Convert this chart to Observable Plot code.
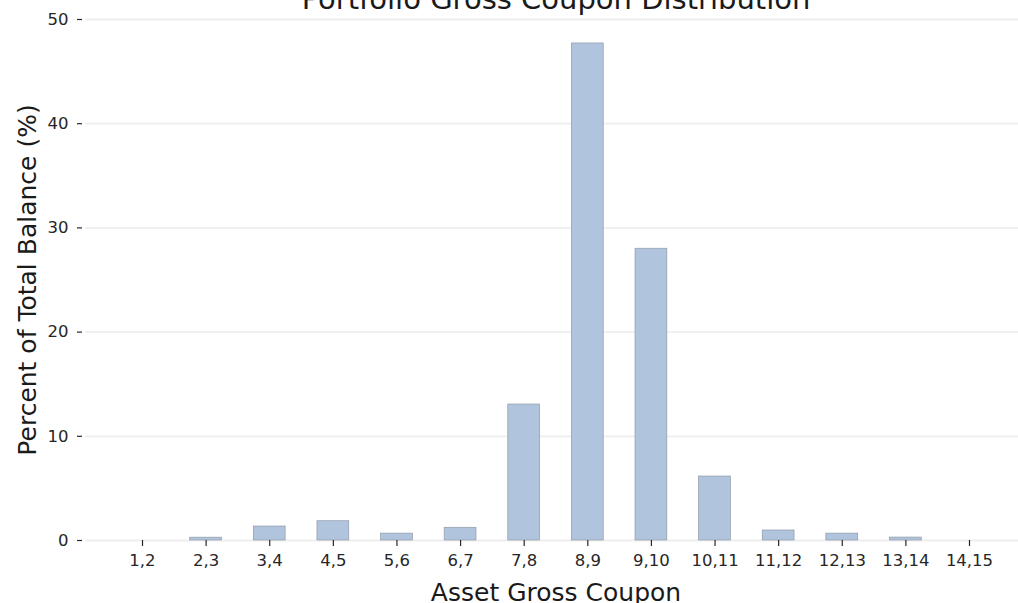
<!DOCTYPE html>
<html>
<head>
<meta charset="utf-8">
<script src="https://cdn.jsdelivr.net/npm/d3@7"></script>
<script src="https://cdn.jsdelivr.net/npm/@observablehq/plot@0.6"></script>
<style>
  html, body { margin: 0; padding: 0; background: #fff; }
  svg { display: block; }
</style>
</head>
<body>
<div id="chart"></div>
<script>
const categories = ["1,2","2,3","3,4","4,5","5,6","6,7","7,8","8,9","9,10","10,11","11,12","12,13","13,14","14,15"];
const values = [0, 0.27, 1.34, 1.85, 0.66, 1.22, 13.05, 47.7, 28.0, 6.14, 0.96, 0.66, 0.28, 0];
const yTicks = [0, 10, 20, 30, 40, 50];
const title = "Portfolio Gross Coupon Distribution";
const xLabel = "Asset Gross Coupon";
const yLabel = "Percent of Total Balance (%)";

const data = categories.map((c, i) => ({cat: c, val: values[i]}));
const font = "DejaVu Sans, sans-serif";

const chart = Plot.plot({
  width: 1018,
  height: 603,
  marginTop: 19,
  marginBottom: 63,
  marginLeft: 85,
  marginRight: 0,
  style: {fontFamily: font, color: "#262626", background: "#fff", overflow: "hidden"},
  x: {type: "band", domain: categories, range: [85, 1026], paddingInner: 0.5, paddingOuter: 0.646, round: false},
  y: {domain: [0, 50], range: [540, 19]},
  marks: [
    Plot.gridY(yTicks, {stroke: "#eeeeee", strokeOpacity: 1, strokeWidth: 1.8}),
    Plot.barY(data, {x: "cat", y: "val", fill: "#b0c4de", stroke: "#8f9aa8", strokeWidth: 0.7}),
    Plot.axisY(yTicks, {anchor: "left", tickSize: 5, dx: -3, tickPadding: 9, fontSize: 16.5, label: null, stroke: "#262626", strokeWidth: 1.2}),
    Plot.axisX({anchor: "bottom", tickSize: 6, tickPadding: 8, fontSize: 16.5, label: null, stroke: "#262626", strokeWidth: 1.2}),
    Plot.text([xLabel], {frameAnchor: "bottom", dx: 4, dy: 60, text: d => d, fontSize: 25, lineAnchor: "bottom", fill: "#1a1a1a"}),
    Plot.text([yLabel], {frameAnchor: "left", dx: -58, rotate: -90, text: d => d, fontSize: 25, textAnchor: "middle", lineAnchor: "middle", fill: "#1a1a1a"}),
    Plot.text([title], {frameAnchor: "top", dx: 4, dy: -11, text: d => d, fontSize: 29, lineAnchor: "bottom", fill: "#1a1a1a"})
  ]
});
document.getElementById("chart").appendChild(chart);
</script>
</body>
</html>
